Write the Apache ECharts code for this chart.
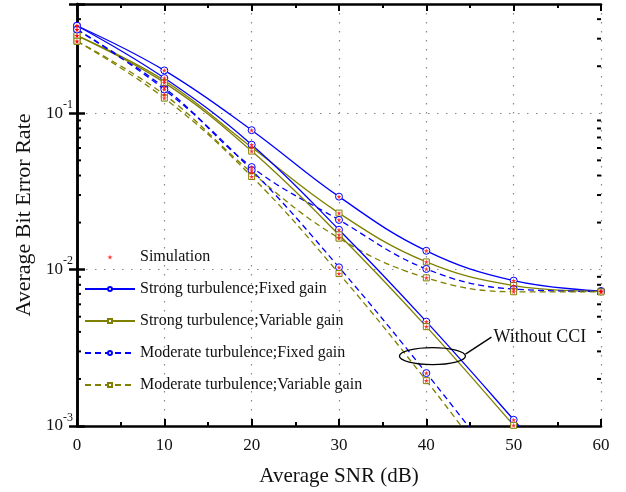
<!DOCTYPE html>
<html>
<head>
<meta charset="utf-8">
<script src="https://cdn.jsdelivr.net/npm/echarts@6/dist/echarts.min.js"></script>
<style>
html, body { margin: 0; padding: 0; background: #fff; }
#chart { width: 626px; height: 492px; }
</style>
</head>
<body>
<div id="chart"></div>
<script>
const snr = [0, 10, 20, 30, 40, 50, 60];

// with CCI
const strongFixedCCI = [0.363, 0.188, 0.078, 0.0293, 0.0132, 0.00851, 0.00730];
const strongVariableCCI = [0.314, 0.162, 0.0607, 0.0230, 0.0112, 0.00791, 0.00727];
const moderateFixedCCI = [0.343, 0.146, 0.0453, 0.0208, 0.0101, 0.00751, 0.00725];
const moderateVariableCCI = [0.289, 0.1316, 0.0418, 0.0159, 0.00886, 0.00722, 0.00720];

// without CCI
const strongFixed = [0.363, 0.168, 0.063, 0.0180, 0.00465, 0.001096, 0.00025];
const strongVariable = [0.314, 0.157, 0.0573, 0.0167, 0.00432, 0.00101, 0.00023];
const moderateFixed = [0.343, 0.142, 0.0433, 0.01035, 0.00218, 0.00042, 0.00008];
const moderateVariable = [0.289, 0.125, 0.0394, 0.00944, 0.00195, 0.00036, 0.00007];

const names = [
    'Strong turbulence;Fixed gain',
    'Strong turbulence;Variable gain',
    'Moderate turbulence;Fixed gain',
    'Moderate turbulence;Variable gain'
];

const BLUE = '#0000ff';
const OLIVE = '#808000';
const FONT = 'Liberation Serif';
const STAR = 'path://M50 0 L61 35 L98 35 L68 57 L79 91 L50 70 L21 91 L32 57 L2 35 L39 35 Z';

function lineSeries(name, values, color, dashed, symbol) {
    return {
        name: name,
        type: 'line',
        data: snr.map((x, i) => [x, values[i]]),
        smooth: 0.4,
        symbol: symbol,
        symbolSize: symbol === 'rect' ? 6 : 7,
        showAllSymbol: true,
        lineStyle: { color: color, width: 1.3, type: dashed ? [6, 4] : 'solid' },
        itemStyle: { color: '#fff', borderColor: color, borderWidth: 1 },
        emphasis: { disabled: true },
        z: 3
    };
}

const allSets = [strongFixedCCI, strongVariableCCI, moderateFixedCCI, moderateVariableCCI,
    strongFixed, strongVariable, moderateFixed, moderateVariable];
const simPoints = [];
allSets.forEach(set => set.forEach((v, i) => { if (v >= 0.001) simPoints.push([snr[i], v]); }));

const chart = echarts.init(document.getElementById('chart'));

const axisLine = { show: true, lineStyle: { color: '#000', width: 2.5 } };
const gridDots = { show: true, lineStyle: { color: '#888', width: 1.2, type: [1.5, 7.5] } };

const option = {
    backgroundColor: '#fff',
    animation: false,
    grid: { left: 77, right: 25, top: 4, bottom: 65 },
    legend: {
        orient: 'vertical',
        left: 79,
        top: 242,
        itemWidth: 50,
        itemHeight: 5,
        itemGap: 12,
        textStyle: { fontFamily: FONT, fontSize: 16, color: '#111', lineHeight: 20 },
        data: ['Simulation'].concat(names)
    },
    xAxis: [
        {
            type: 'value',
            min: 0,
            max: 60,
            interval: 10,
            axisLine: axisLine,
            axisTick: { inside: true, length: 7, lineStyle: { color: '#000', width: 2 } },
            minorTick: { show: true, splitNumber: 2, length: 4, lineStyle: { color: '#000', width: 2 } },
            splitLine: gridDots,
            axisLabel: { fontFamily: FONT, fontSize: 17, color: '#111', margin: 11 },
            name: 'Average SNR (dB)',
            nameLocation: 'middle',
            nameGap: 40,
            nameTextStyle: { fontFamily: FONT, fontSize: 21, color: '#111' }
        },
        {
            type: 'value',
            position: 'top',
            min: 0,
            max: 60,
            interval: 10,
            axisLine: axisLine,
            axisTick: { inside: true, length: 7, lineStyle: { color: '#000', width: 2 } },
            minorTick: { show: true, splitNumber: 2, length: 4, lineStyle: { color: '#000', width: 2 } },
            splitLine: { show: false },
            axisLabel: { show: false }
        }
    ],
    yAxis: [
        {
            type: 'log',
            logBase: 10,
            min: 0.001,
            max: 0.5,
            axisLine: axisLine,
            axisTick: { inside: true, length: 8, lineStyle: { color: '#000', width: 2.5 } },
            splitLine: gridDots,
            axisLabel: {
                margin: 4,
                formatter: function (v) {
                    const lg = Math.log10(v);
                    const e = Math.round(lg);
                    if (Math.abs(lg - e) > 1e-6) return '';
                    return '{b|10}{s|' + e + '}';
                },
                rich: {
                    b: { fontFamily: FONT, fontSize: 17, color: '#111' },
                    s: { fontFamily: FONT, fontSize: 12, color: '#111', padding: [0, 0, 17, 0] }
                }
            },
            name: 'Average Bit Error Rate',
            nameLocation: 'middle',
            nameGap: 40,
            nameTextStyle: { fontFamily: FONT, fontSize: 22, color: '#111' }
        },
        {
            type: 'log',
            logBase: 10,
            position: 'right',
            min: 0.001,
            max: 0.5,
            axisLine: axisLine,
            axisTick: { inside: true, length: 8, lineStyle: { color: '#000', width: 2.5 } },
            splitLine: { show: false },
            axisLabel: { show: false }
        }
    ],
    series: [
        {
            name: 'Simulation',
            type: 'scatter',
            data: simPoints,
            symbol: STAR,
            symbolSize: 5,
            itemStyle: { color: '#ff0000' },
            emphasis: { disabled: true },
            z: 6
        },
        lineSeries(names[0], strongFixedCCI, BLUE, false, 'circle'),
        lineSeries(names[1], strongVariableCCI, OLIVE, false, 'rect'),
        lineSeries(names[2], moderateFixedCCI, BLUE, true, 'circle'),
        lineSeries(names[3], moderateVariableCCI, OLIVE, true, 'rect'),
        lineSeries(names[0], strongFixed, BLUE, false, 'circle'),
        lineSeries(names[1], strongVariable, OLIVE, false, 'rect'),
        lineSeries(names[2], moderateFixed, BLUE, true, 'circle'),
        lineSeries(names[3], moderateVariable, OLIVE, true, 'rect')
    ]
};

chart.setOption(option);

// minor log ticks (2..9 per decade) and the "Without CCI" note
const left = chart.convertToPixel({ xAxisIndex: 0 }, 0);
const right = chart.convertToPixel({ xAxisIndex: 0 }, 60);
const graphics = [];
for (let e = -3; e <= -1; e++) {
    for (let m = 2; m <= 9; m++) {
        const v = m * Math.pow(10, e);
        if (v >= 0.5) continue;
        const y = chart.convertToPixel({ yAxisIndex: 0 }, v);
        graphics.push({ type: 'line', shape: { x1: left, y1: y, x2: left + 4, y2: y }, style: { stroke: '#000', lineWidth: 2 } });
        graphics.push({ type: 'line', shape: { x1: right - 4, y1: y, x2: right, y2: y }, style: { stroke: '#000', lineWidth: 2 } });
    }
}
const c = chart.convertToPixel({ seriesIndex: 1 }, [40.7, 0.0028]);
graphics.push({ type: 'ellipse', shape: { cx: c[0], cy: c[1], rx: 33, ry: 8.5 }, style: { fill: 'none', stroke: '#000', lineWidth: 1.3 }, z: 10 });
graphics.push({ type: 'line', shape: { x1: c[0] + 33, y1: c[1] - 2, x2: c[0] + 59, y2: c[1] - 19 }, style: { stroke: '#000', lineWidth: 1.3 }, z: 10 });
graphics.push({ type: 'text', x: c[0] + 61, y: c[1] - 19, style: { text: 'Without CCI', font: '18px "Liberation Serif"', fill: '#111', textVerticalAlign: 'middle' }, z: 10 });
chart.setOption({ graphic: graphics });
</script>
</body>
</html>
